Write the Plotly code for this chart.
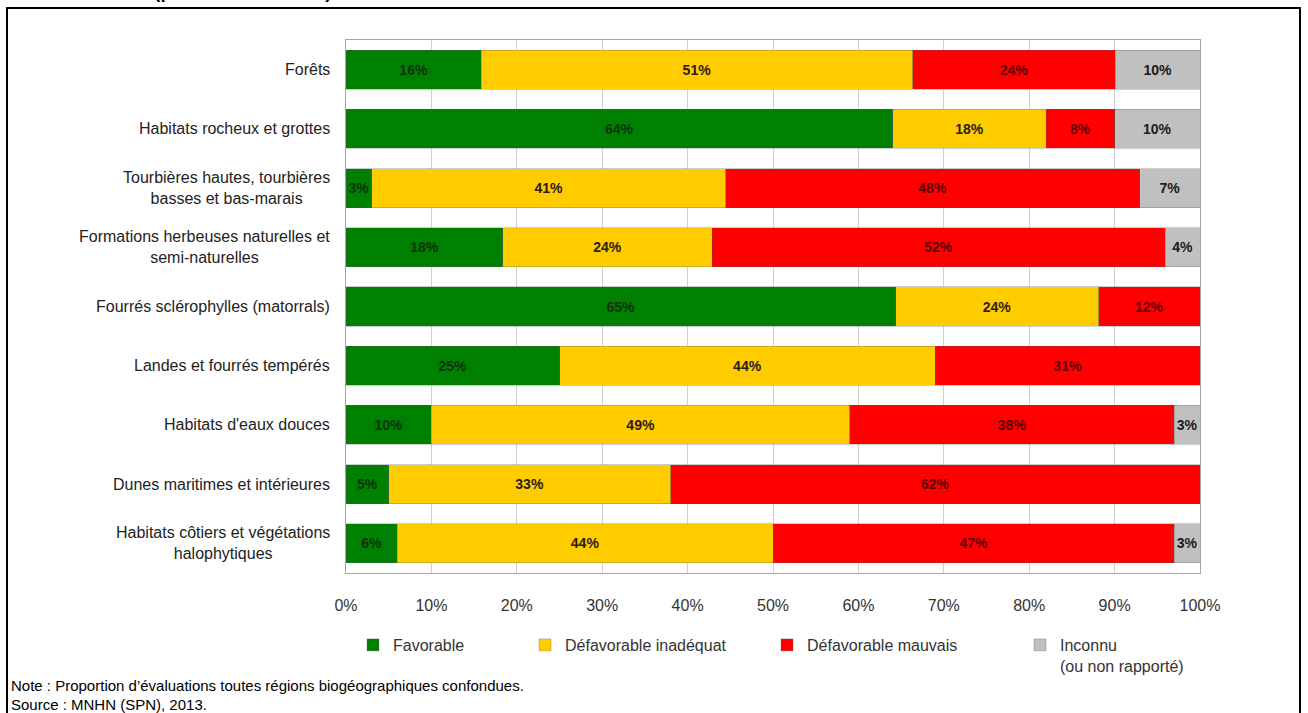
import plotly.graph_objects as go

# Habitat groups (top to bottom) and their assessment shares, in %
categories = [
    "Forêts",
    "Habitats rocheux et grottes",
    "Tourbières hautes, tourbières<br>basses et bas-marais",
    "Formations herbeuses naturelles et<br>semi-naturelles",
    "Fourrés sclérophylles (matorrals)",
    "Landes et fourrés tempérés",
    "Habitats d'eaux douces",
    "Dunes maritimes et intérieures",
    "Habitats côtiers et végétations<br>halophytiques",
]
favorable = [16, 64, 3, 18, 65, 25, 10, 5, 6]
inadequat = [51, 18, 41, 24, 24, 44, 49, 33, 44]
mauvais = [24, 8, 48, 52, 12, 31, 38, 62, 47]
inconnu = [10, 10, 7, 4, 0, 0, 3, 0, 3]

series_names = ["Favorable", "Défavorable inadéquat", "Défavorable mauvais",
                "Inconnu<br>(ou non rapporté)"]
x_ticks = [0, 10, 20, 30, 40, 50, 60, 70, 80, 90, 100]

# figure geometry (pixels)
W, H = 1308, 713
PL, PR, PT, PB = 346, 1200, 40, 573


def px_x(p):
    return (p - PL) / (PR - PL)


def px_y(p):
    return (PB - p) / (PB - PT)


keys = [c.replace("<br>", " ") for c in categories]

series = [favorable, inadequat, mauvais, inconnu]
colors = ["#008000", "#FFCC00", "#FF0000", "#C0C0C0"]
text_colors = ["#0d330d", "#2e1a1a", "#5c0000", "#1a1a1a"]
legend_ids = ["legend", "legend2", "legend3", "legend4"]

fig = go.Figure()
for vals, name, col, tcol, lg in zip(series, series_names, colors, text_colors, legend_ids):
    fig.add_trace(go.Bar(
        y=keys,
        x=vals,
        orientation="h",
        name=name,
        showlegend=True,
        marker=dict(color=col, line=dict(width=0.6, color="rgba(90,90,90,0.5)")),
        text=[f"{v}%" if v > 0 else "" for v in vals],
        textposition="inside",
        insidetextanchor="middle",
        textangle=0,
        textfont=dict(family="Arial", size=14, color=tcol, weight="bold"),
        legend=lg,
        hoverinfo="skip",
    ))

fig.update_layout(
    width=W, height=H,
    margin=dict(l=PL, r=W - PR, t=PT, b=H - PB),
    barmode="stack",
    barnorm="percent",
    bargap=0.34,
    showlegend=True,
    paper_bgcolor="white",
    plot_bgcolor="white",
    font=dict(family="Arial", size=16, color="#333333"),
    uniformtext=dict(minsize=14, mode="show"),
)

fig.update_xaxes(
    range=[0, 100],
    tickvals=x_ticks,
    ticktext=[f"{t}%" for t in x_ticks],
    showgrid=True, gridcolor="#cfcfcf", gridwidth=1,
    showline=True, linecolor="#a6a6a6", linewidth=1, mirror=True,
    zeroline=False,
    ticks="", ticklabelstandoff=18,
    tickfont=dict(family="Arial", size=16, color="#333333"),
    fixedrange=True,
)
fig.update_yaxes(
    categoryorder="array", categoryarray=keys,
    autorange="reversed",
    showticklabels=False,
    showline=True, linecolor="#a6a6a6", linewidth=1, mirror=True,
    showgrid=False,
    fixedrange=True,
)

# category labels, centred line by line, right-aligned against the axis
for key, label in zip(keys, categories):
    fig.add_annotation(
        x=px_x(332), xref="paper", y=key, yref="y",
        text=label, showarrow=False, xanchor="right", yanchor="middle",
        align="center", font=dict(family="Arial", size=16, color="#222222"),
    )

# one legend per series so each entry sits at its own position
legend_x = [353, 525, 767, 1020]
legend_common = dict(orientation="v", yanchor="top", xanchor="left",
                     bgcolor="rgba(0,0,0,0)", borderwidth=0, valign="top",
                     visible=True,
                     font=dict(family="Arial", size=16, color="#333333"))
layout_legends = {}
for lg, lx in zip(legend_ids, legend_x):
    layout_legends[lg] = dict(x=px_x(lx), y=px_y(628), **legend_common)
fig.update_layout(**layout_legends)

# heading line running off the top of the frame
fig.add_annotation(
    x=px_x(74), xref="paper", y=px_y(4), yref="paper",
    text="<b>habitats (période 2007-2012)</b>", showarrow=False,
    xanchor="left", yanchor="bottom",
    font=dict(family="Arial", size=19, color="#000000"),
)

# footnotes
fig.add_annotation(
    x=px_x(9), xref="paper", y=px_y(685), yref="paper",
    text="Note : Proportion d’évaluations toutes régions biogéographiques confondues.",
    showarrow=False, xanchor="left", yanchor="middle",
    font=dict(family="Arial", size=15, color="#000000"),
)
fig.add_annotation(
    x=px_x(9), xref="paper", y=px_y(704), yref="paper",
    text="Source : MNHN (SPN), 2013.",
    showarrow=False, xanchor="left", yanchor="middle",
    font=dict(family="Arial", size=15, color="#000000"),
)

# outer frame
fig.add_shape(
    type="rect", xref="paper", yref="paper",
    x0=px_x(7), x1=px_x(1300), y0=px_y(730), y1=px_y(8),
    line=dict(color="#000000", width=2), fillcolor="rgba(0,0,0,0)",
    layer="below",
)

fig.write_html("out.html")
